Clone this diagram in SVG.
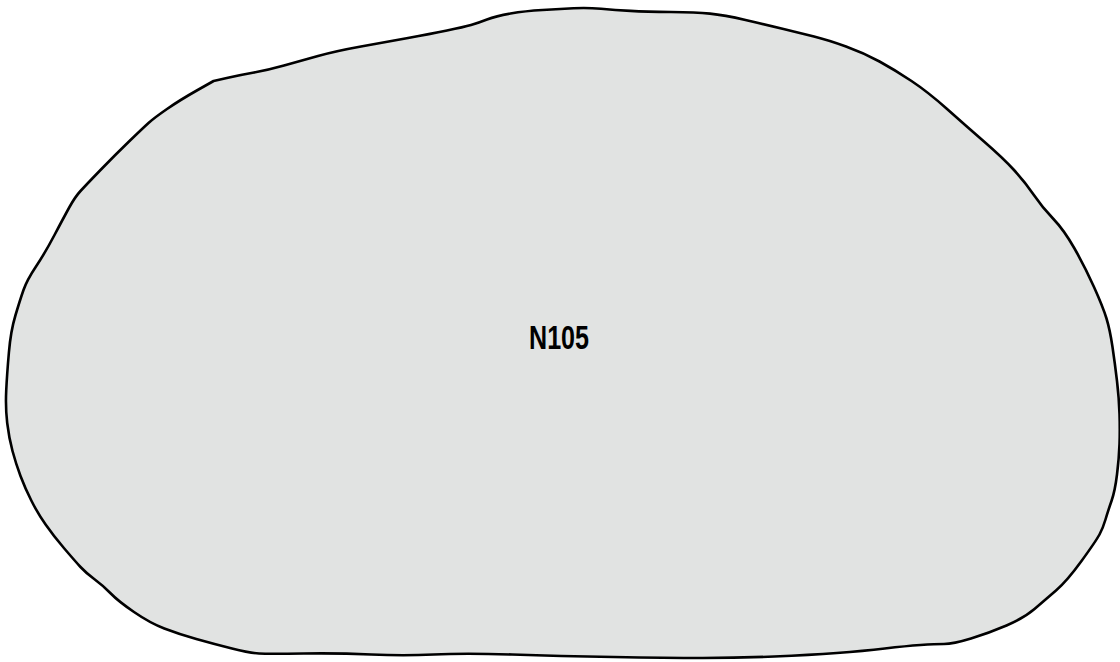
<svg xmlns="http://www.w3.org/2000/svg" width="1120" height="662" viewBox="0 0 1120 662">
<style>
.blob{fill:#e1e3e2;stroke:#000;stroke-width:2.6;stroke-linejoin:round}
.lbl{font-family:"Liberation Sans",Arial,sans-serif;font-size:33px;font-weight:bold;fill:#000;text-anchor:middle}
</style>
<rect width="1120" height="662" fill="#fff"/>
<g id="N105">
<path class="blob" d="M196.8,90.5 L213.6,81 L226.8,78 Q240,75 254,72.5 Q268,70 284,65.5 Q300,61 318,56 Q336,51 361,46.5 Q386,42 408,38 Q430,34 447,30.5 Q464,27 471,25 Q478,23 487,19.5 Q496,16 510.5,13.5 Q525,11 542.5,10 Q560,9 573.5,8.25 Q587,7.5 601,8.75 Q615,10 630.5,10.85 Q646,11.7 671,12 Q696,12.3 710,13.65 Q724,15 745.5,20 Q767,25 783.5,29 Q800,33 814,36.5 Q828,40 846,46.5 Q864,53 879.5,61.5 Q895,70 911.5,81 Q928,92 946.5,108.5 Q965,125 984,141.5 Q1003,158 1014,170 Q1025,182 1033.5,194.5 Q1042,207 1053,218.5 Q1064,230 1074.5,248.5 Q1085,267 1094,287 Q1103,307 1106.5,318.5 Q1110,330 1112.5,347 Q1115,364 1117,381 Q1119,398 1119.5,414 Q1120,430 1119.5,444 Q1119,458 1117,474.5 Q1115,491 1111.5,501 Q1108,511 1105.5,519.5 Q1103,528 1099.5,534.5 Q1096,541 1081.5,561 Q1067,581 1056,590.5 Q1045,600 1034.5,609 Q1024,618 1006.5,625.5 Q989,633 971,638.5 Q953,644 944,644 Q935,644 920.5,645 Q906,646 884.8,648.5 Q863.6,651 836.8,653 Q810,655 774.3,656.5 Q738.6,658 702.8,658 Q667,658 613.5,657 Q560,656 512,654.5 Q464,653 433.8,654.5 Q403.6,656 371.3,654.5 Q339,653 303.5,653.5 Q268,654 259,653.5 Q250,653 232,648.5 Q214,644 196.3,639 Q178.6,634 164.3,628.5 Q150,623 134,612 Q118,601 110.8,593.5 Q103.6,586 94.8,579.5 Q86,573 80.5,567 Q75,561 64.3,548.5 Q53.6,536 45.6,524.5 Q37.5,513 31.3,500.5 Q25,488 20.5,476 Q16,464 12.5,451 Q9,438 7.2,423 Q5.4,408 6.2,391 Q7,374 8.9,352.5 Q10.7,331 15.4,315.5 Q20,300 23.5,290 Q27,280 36,266.5 Q45,253 54.5,235 Q64,217 69.5,207 Q75,197 80.5,191 Q86,185 100.5,170 Q115,155 129,141.5 Q143,128 148.5,123 Q154,118 167,109 Q180,100 196.8,90.5 Z"/>
<text class="lbl" x="559" y="349" textLength="60" lengthAdjust="spacingAndGlyphs">N105</text>
</g>
<g id="connectors"></g>
</svg>
